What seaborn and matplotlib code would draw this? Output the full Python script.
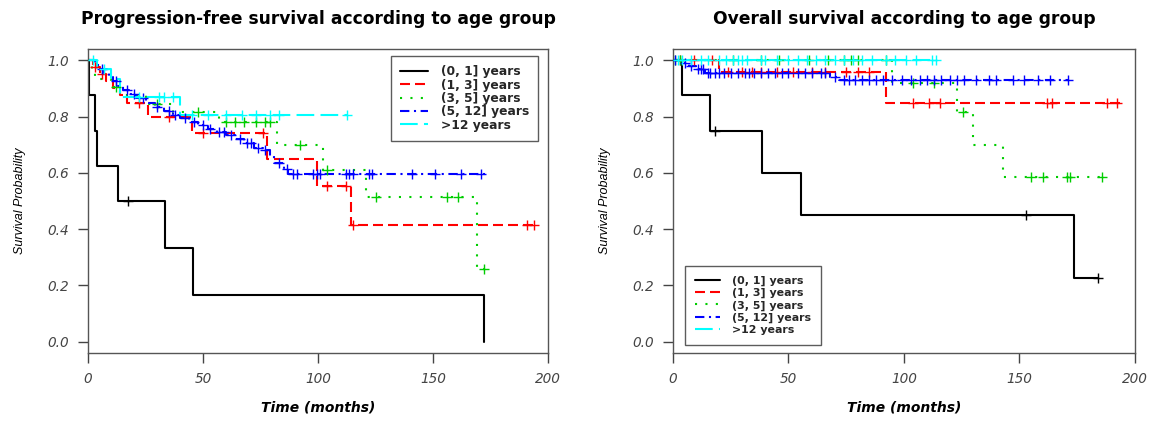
import numpy as np
import pandas as pd
import seaborn as sns
import matplotlib.pyplot as plt
from matplotlib.lines import Line2D

groups = ['(0, 1] years', '(1, 3] years', '(3, 5] years', '(5, 12] years', '>12 years']
colors = ['black', '#ff0000', '#00cd00', '#0000ff', '#00ffff']
styles = ['-', (0, (4.8, 2.4)), (0, (1, 4)), (0, (4.5, 2.2, 1, 2.2)), (0, (8.5, 3))]

# progression-free survival: step times, survival after each step, censor times, last follow-up
pfs_t = {
    groups[0]: [0, 0.5, 3, 4, 13, 33.5, 45.5, 172],
    groups[1]: [0, 2, 5, 8, 11, 14, 17, 26, 45, 78, 99.5, 114.5],
    groups[2]: [0, 1.5, 3, 10, 14, 25, 37, 57, 82, 102, 121, 169],
    groups[3]: [0, 3, 5, 7, 9, 11, 13, 15, 18, 21, 25, 29, 33, 37, 40, 44, 48, 52, 56, 60,
                64, 68, 72, 76, 79, 81, 85, 87],
    groups[4]: [0, 4, 10, 14, 40],
}
pfs_s = {
    groups[0]: [1.0, 0.875, 0.75, 0.625, 0.5, 0.333, 0.167, 0.0],
    groups[1]: [1.0, 0.975, 0.95, 0.925, 0.9, 0.875, 0.85, 0.80, 0.74, 0.65, 0.555, 0.415],
    groups[2]: [1.0, 0.955, 0.935, 0.905, 0.875, 0.845, 0.815, 0.78, 0.70, 0.61, 0.515, 0.258],
    groups[3]: [1.0, 0.985, 0.97, 0.955, 0.94, 0.925, 0.91, 0.895, 0.88, 0.865, 0.85, 0.835,
                0.82, 0.805, 0.795, 0.78, 0.77, 0.755, 0.745, 0.735, 0.72, 0.705, 0.69, 0.68,
                0.66, 0.635, 0.615, 0.595],
    groups[4]: [1.0, 0.97, 0.935, 0.87, 0.805],
}
pfs_cens = {
    groups[0]: [17.5],
    groups[1]: [3, 6, 22, 35, 50, 76, 104, 112, 115, 191, 194],
    groups[2]: [12, 30, 48, 60, 64, 68, 73, 77, 79, 92, 104, 125, 156, 161, 172],
    groups[3]: [6, 12, 17, 20, 24, 30, 35, 38, 42, 46, 50, 53, 57, 59, 62, 66, 69, 71, 74, 77,
                83, 86.5, 89, 91, 98, 99.5, 101, 112, 113.5, 115, 122, 123.5, 141, 151, 162, 171],
    groups[4]: [2, 7, 22, 31, 33, 37, 45, 52, 60, 67, 73, 79, 83, 112.6],
}
pfs_end = {groups[0]: 172, groups[1]: 195, groups[2]: 172, groups[3]: 174, groups[4]: 112.6}

# overall survival
os_t = {
    groups[0]: [0, 3.7, 16, 38.4, 55.4, 173.6],
    groups[1]: [0, 20, 92],
    groups[2]: [0, 95, 123, 129.7, 143],
    groups[3]: [0, 4, 7, 10, 14, 68, 72],
    groups[4]: [0],
}
os_s = {
    groups[0]: [1.0, 0.875, 0.75, 0.6, 0.45, 0.225],
    groups[1]: [1.0, 0.958, 0.85],
    groups[2]: [1.0, 0.92, 0.817, 0.70, 0.585],
    groups[3]: [1.0, 0.99, 0.98, 0.97, 0.955, 0.942, 0.93],
    groups[4]: [1.0],
}
os_cens = {
    groups[0]: [18, 153, 184],
    groups[1]: [3, 9, 17, 24, 30, 34, 38, 45, 52, 60, 66, 75, 80, 85, 104, 111, 115.6,
                162, 164, 188, 192],
    groups[2]: [1, 3, 26, 38, 46, 59, 67, 74, 77, 80, 92, 104, 113, 125.6, 155, 160, 170.5,
                172, 185.6],
    groups[3]: [1, 5, 8, 11, 12, 13, 15, 16, 18, 20, 22, 25, 28, 31, 33, 35, 38, 41, 44, 47,
                50, 54, 57, 60, 64, 66, 70, 74, 76, 79, 82, 85, 88, 91, 95, 99, 103, 107, 110,
                113, 116, 120, 123, 126, 131, 137, 140, 147, 152, 158, 163, 171],
    groups[4]: [2, 4, 8, 12, 15, 20, 23, 26, 28, 30, 32, 38, 40, 45, 50, 54, 58, 62, 66, 70,
                74, 78, 82, 86, 92, 96, 101, 105, 112, 114],
}
os_end = {groups[0]: 184, groups[1]: 194, groups[2]: 185.6, groups[3]: 171, groups[4]: 114}

sns.set_theme(style="white")
plt.rcParams['font.family'] = ['DejaVu Sans']

fig = plt.figure(figsize=(11.51, 4.21), dpi=100)
ax1 = fig.add_axes([0.0765, 0.1615, 0.3997, 0.722])
ax2 = fig.add_axes([0.5847, 0.1615, 0.4014, 0.722])


def km_panel(ax, st, ss, cens, end, title):
    for g, c, ls in zip(groups, colors, styles):
        tt = np.array(st[g] + [end[g]], dtype=float)
        yy = np.array(ss[g] + [ss[g][-1]], dtype=float)
        d = pd.DataFrame({'t': tt, 's': yy})
        sns.lineplot(data=d, x='t', y='s', ax=ax, color=c, linestyle=ls, lw=1.5,
                     drawstyle='steps-post', sort=False, estimator=None)
        ct = np.array(cens[g], dtype=float)
        idx = np.searchsorted(np.array(st[g], dtype=float), ct, side='right') - 1
        cy = np.array(ss[g])[idx]
        sns.scatterplot(x=ct, y=cy, ax=ax, marker='+', color=c, s=55, linewidth=1.0,
                        zorder=3)
    ax.set_xlim(0, 200)
    ax.set_ylim(-0.04, 1.04)
    ax.set_xticks([0, 50, 100, 150, 200])
    ax.set_yticks([0.0, 0.2, 0.4, 0.6, 0.8, 1.0])
    ax.set_yticklabels(['0.0', '0.2', '0.4', '0.6', '0.8', '1.0'])
    ax.tick_params(axis='both', direction='out', length=7, width=1, color='#444444',
                   labelcolor='#444444', labelsize=9.8, pad=7, bottom=True, left=True)
    for lab in ax.get_xticklabels() + ax.get_yticklabels():
        lab.set_fontstyle('italic')
    for sp in ax.spines.values():
        sp.set_color('#555555')
        sp.set_linewidth(1)
    ax.set_xlabel('Time (months)', fontsize=10, fontweight='bold', fontstyle='italic',
                  labelpad=10, color='black')
    ax.set_ylabel('Survival Probability', fontsize=9, fontstyle='italic', labelpad=15,
                  family='Liberation Sans', color='black')
    ax.set_title(title, fontsize=12.3, fontweight='bold', pad=18, color='black')


km_panel(ax1, pfs_t, pfs_s, pfs_cens, pfs_end,
         'Progression-free survival according to age group')
km_panel(ax2, os_t, os_s, os_cens, os_end,
         'Overall survival according to age group')

handles = [Line2D([0], [0], color=c, linestyle=ls, lw=1.5) for c, ls in zip(colors, styles)]
leg1 = ax1.legend(handles, groups, loc='upper right', bbox_to_anchor=(0.978, 0.977),
                  prop={'weight': 'bold', 'size': 8.8}, frameon=True, fancybox=False,
                  edgecolor='#333333', handlelength=2.3, labelspacing=0.03,
                  borderpad=0.75, handletextpad=1.0, borderaxespad=0)
leg1.get_frame().set_linewidth(1)
leg2 = ax2.legend(handles, groups, loc='lower left', bbox_to_anchor=(0.026, 0.026),
                  prop={'weight': 'bold', 'size': 7.9}, frameon=True, fancybox=False,
                  edgecolor='#333333', handlelength=2.3, labelspacing=0.2,
                  borderpad=0.9, handletextpad=1.1, borderaxespad=0)
leg2.get_frame().set_linewidth(1)

fig.savefig('out.png', dpi=100)
